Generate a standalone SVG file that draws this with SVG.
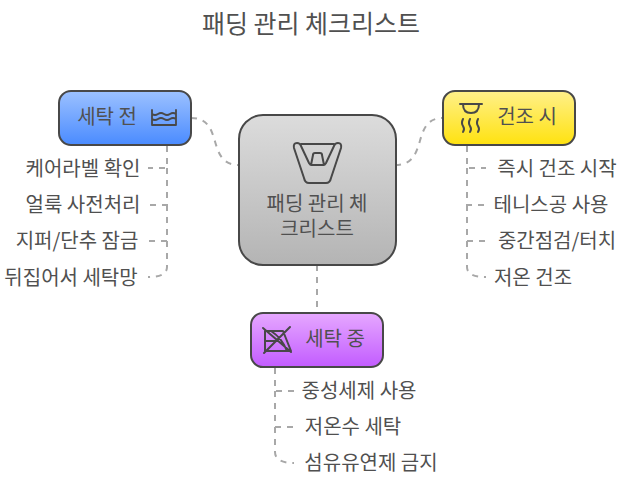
<svg xmlns="http://www.w3.org/2000/svg" width="638" height="480" viewBox="0 0 638 480">
<style>
text{font-family:"Noto Sans CJK KR",sans-serif;fill:#505050}
.l{font-size:20px;text-anchor:middle}
.n{font-size:20px;text-anchor:middle}
.c{fill:none;stroke:#a8a8a8;stroke-width:2;stroke-dasharray:6 6}
.b{stroke:#484848;stroke-width:2}
.i{fill:none;stroke:#484848;stroke-width:2;stroke-linejoin:round;stroke-linecap:round}
</style>
<defs>
<linearGradient id="gg" x1="0" y1="0" x2="0" y2="1"><stop offset="0" stop-color="#dcdcdc"/><stop offset="1" stop-color="#b4b4b4"/></linearGradient>
<linearGradient id="gb" x1="0" y1="0" x2="0" y2="1"><stop offset="0" stop-color="#9cc1ff"/><stop offset="1" stop-color="#4a8bff"/></linearGradient>
<linearGradient id="gy" x1="0" y1="0" x2="0" y2="1"><stop offset="0" stop-color="#fff08a"/><stop offset="1" stop-color="#ffe20f"/></linearGradient>
<linearGradient id="gp" x1="0" y1="0" x2="0" y2="1"><stop offset="0" stop-color="#e6a8ff"/><stop offset="1" stop-color="#c25cff"/></linearGradient>
</defs>
<text x="311" y="33" style="font-size:25px;text-anchor:middle">패딩 관리 체크리스트</text>
<g id="connectors">
<path class="c" d="M191 118C225 118 205 165 239 165"/>
<path class="c" d="M395 165C430 165 410 118 443 118"/>
<path class="c" d="M317 265V312"/>
<path class="c" d="M167 146V168H148"/>
<path class="c" d="M167 168V205H148"/>
<path class="c" d="M167 205V241H148"/>
<path class="c" d="M167 241V267Q167 277 148 277"/>
<path class="c" d="M467 146V168H486"/>
<path class="c" d="M467 168V205H486"/>
<path class="c" d="M467 205V241H486"/>
<path class="c" d="M467 241V267Q467 277 486 277"/>
<path class="c" d="M275 368V391H294"/>
<path class="c" d="M275 391V427H294"/>
<path class="c" d="M275 427V452Q275 463 294 463"/>
</g>
<g id="center"><rect class="b" x="239" y="115" width="157" height="150" rx="24" fill="url(#gg)"/>
<path class="i" d="M294 148Q293 143 297 143Q300 143 301 146L309 163Q310 165 312 165H323Q325 165 326 163L334 146Q335 143 338 143Q342 143 341 148L331 178Q330 183 326 183H309Q305 183 304 178ZM301 144H334M311 165L313 155Q313 153 315 153H320Q322 153 322 155L324 165"/>
<text class="n" x="317" y="211"><tspan x="317">패딩 관리 체</tspan><tspan x="317" dy="25">크리스트</tspan></text></g>
<g id="before"><rect class="b" x="59" y="91" width="132" height="54" rx="12" fill="url(#gb)"/>
<text class="n" x="107" y="124">세탁 전</text>
<path class="i" d="M152 110V125H176V110M152 114Q155 116 158 114T164 114T170 114T176 114M152 119Q155 121 158 119T164 119T170 119T176 119" style="stroke-width:1.8"/></g>
<g id="dry"><rect class="b" x="443" y="91" width="132" height="54" rx="12" fill="url(#gy)"/>
<text class="n" x="527" y="124">건조 시</text>
<path class="i" d="M460 104H482M463 104Q463 113 471 113Q479 113 479 104M463 119Q461 123 463 126T463 132M470 119Q468 123 470 126T470 132M478 119Q476 123 478 126T478 132"/></g>
<g id="wash"><rect class="b" x="251" y="313" width="132" height="54" rx="12" fill="url(#gp)"/>
<text class="n" x="335" y="346">세탁 중</text>
<path class="i" d="M265 331V351H291L283 331ZM265 341H278M263 328L291 352M264 353L290 327M271 331Q282 338 287 351"/></g>
<g id="items">
<text class="l" x="83" y="176">케어라벨 확인</text>
<text class="l" x="83" y="212">얼룩 사전처리</text>
<text class="l" x="77" y="248">지퍼/단추 잠금</text>
<text class="l" x="71" y="285">뒤집어서 세탁망</text>
<text class="l" x="557" y="176">즉시 건조 시작</text>
<text class="l" x="551" y="212">테니스공 사용</text>
<text class="l" x="557" y="248">중간점검/터치</text>
<text class="l" x="533" y="285">저온 건조</text>
<text class="l" x="359" y="398">중성세제 사용</text>
<text class="l" x="353" y="434">저온수 세탁</text>
<text class="l" x="371" y="470">섬유유연제 금지</text>
</g>
</svg>
